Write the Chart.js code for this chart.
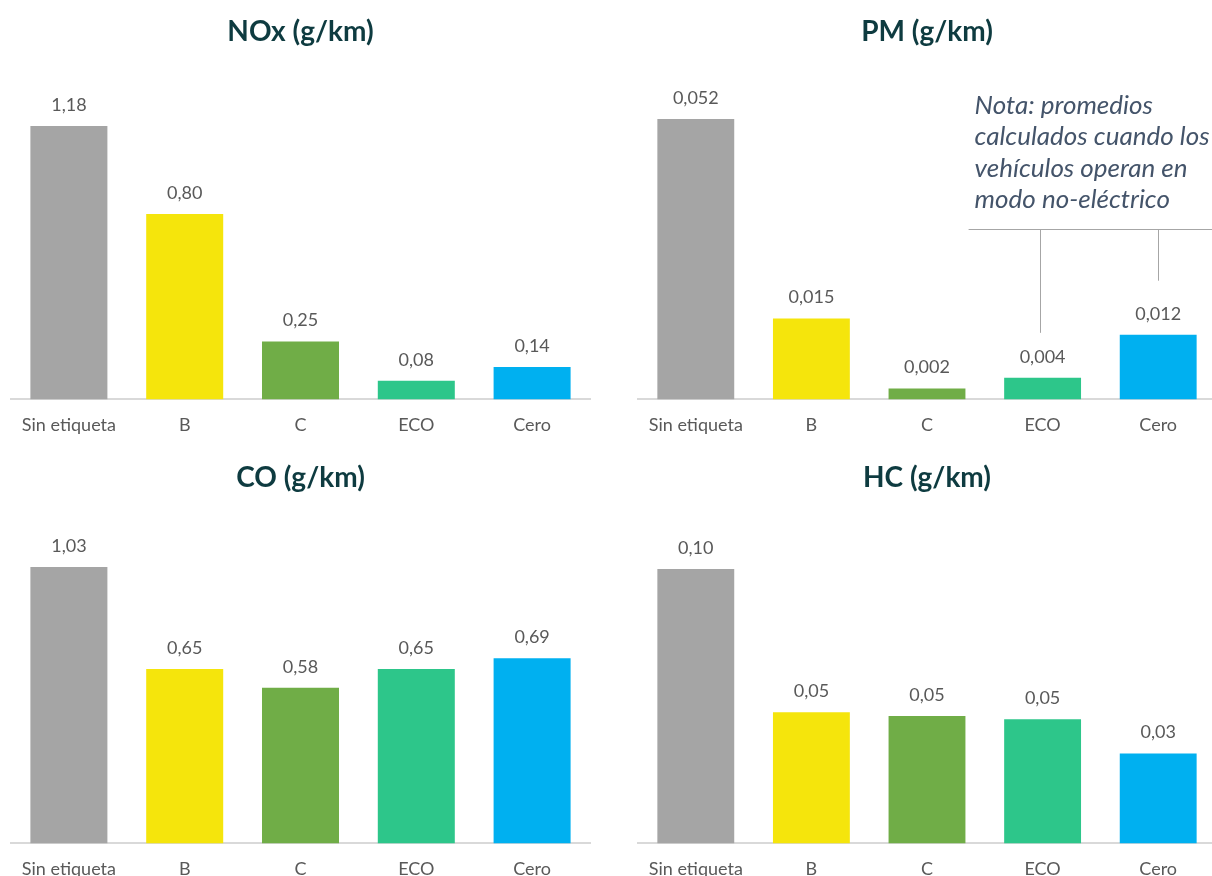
<!DOCTYPE html>
<html>
<head>
<meta charset="utf-8">
<script src="https://cdn.jsdelivr.net/npm/chart.js@4/dist/chart.umd.min.js"></script>
<style>
    html, body { margin: 0; padding: 0; background: #fff; overflow: hidden; }
    #page { position: relative; width: 1212px; height: 876px; overflow: hidden; }
    canvas { position: absolute; }
</style>
</head>
<body>
<div id="page">
    <canvas id="nox" width="600" height="451" style="left:0px;top:0px"></canvas>
    <canvas id="pm" width="600" height="451" style="left:626px;top:0px"></canvas>
    <canvas id="co" width="600" height="451" style="left:0px;top:444px"></canvas>
    <canvas id="hc" width="600" height="451" style="left:626px;top:444px"></canvas>
</div>
<script>
// Categories (environmental label) and values per pollutant
const categories = ["Sin etiqueta", "B", "C", "ECO", "Cero"];
const noxValues = [1.18, 0.80, 0.25, 0.08, 0.14];
const pmValues = [0.052, 0.015, 0.002, 0.004, 0.012];
const coValues = [1.03, 0.65, 0.58, 0.65, 0.69];
const hcValues = [0.100, 0.0478, 0.0464, 0.0453, 0.0328];

const noteLines = ["Nota: promedios", "calculados cuando los", "vehículos operan en", "modo no-eléctrico"];

// Bar colours, one per category
const barColors = ["#A5A5A5", "#F5E50C", "#70AD47", "#2DC68A", "#00B0F0"];

const FONT = "Lato";
const TEXT_GRAY = "#595959";

// Draws the value above each bar (comma as decimal separator)
const valueLabels = {
    id: "valueLabels",
    afterDatasetsDraw(chart, args, opts) {
        const ctx = chart.ctx;
        const meta = chart.getDatasetMeta(0);
        const data = chart.data.datasets[0].data;
        ctx.save();
        ctx.font = "18px " + FONT;
        ctx.fillStyle = TEXT_GRAY;
        ctx.textAlign = "center";
        ctx.textBaseline = "middle";
        meta.data.forEach((bar, i) => {
            const txt = data[i].toFixed(opts.decimals).replace(".", ",");
            ctx.fillText(txt, bar.x, bar.y - 21);
        });
        ctx.restore();
    }
};

// Note with leader lines pointing to ECO and Cero (PM chart only)
const pmNote = {
    id: "pmNote",
    afterDatasetsDraw(chart) {
        const ctx = chart.ctx;
        const meta = chart.getDatasetMeta(0);
        const eco = meta.data[3];
        const cero = meta.data[4];
        const textX = eco.x - 68;
        ctx.save();
        ctx.font = "italic 26px " + FONT;
        ctx.fillStyle = "#44546A";
        ctx.textAlign = "left";
        ctx.textBaseline = "alphabetic";
        noteLines.forEach((line, i) => {
            ctx.fillText(line, textX, 114 + i * 31.3);
        });
        const lineY = 229.5;
        ctx.strokeStyle = "#A6A6A6";
        ctx.lineWidth = 1;
        ctx.beginPath();
        ctx.moveTo(textX - 6, lineY);
        ctx.lineTo(chart.width, lineY);
        ctx.moveTo(Math.round(eco.x) - 2.5, lineY);
        ctx.lineTo(Math.round(eco.x) - 2.5, eco.y - 45);
        ctx.moveTo(Math.round(cero.x) + 0.5, lineY);
        ctx.lineTo(Math.round(cero.x) + 0.5, cero.y - 54);
        ctx.stroke();
        ctx.restore();
    }
};

function makeChart(id, title, values, decimals, yMax, titlePad, extraPlugins) {
    return new Chart(document.getElementById(id), {
        type: "bar",
        data: {
            labels: categories,
            datasets: [{
                data: values,
                backgroundColor: barColors,
                borderWidth: 0,
                categoryPercentage: 1.0,
                barPercentage: 0.665
            }]
        },
        plugins: [valueLabels].concat(extraPlugins || []),
        options: {
            responsive: false,
            animation: false,
            layout: { padding: { left: id === "nox" || id === "co" ? 11 : 12, right: 10, top: 0, bottom: 0 } },
            plugins: {
                legend: { display: false },
                tooltip: { enabled: false },
                title: {
                    display: true,
                    text: title,
                    color: "#0E3B40",
                    font: { family: FONT, size: 28, weight: "bold", lineHeight: 1.2 },
                    padding: titlePad
                },
                valueLabels: { decimals: decimals }
            },
            scales: {
                x: {
                    grid: { display: false, drawTicks: false },
                    border: { display: true, color: "#D9D9D9", width: 2 },
                    ticks: {
                        color: TEXT_GRAY,
                        padding: 15,
                        font: { family: FONT, size: 18 }
                    }
                },
                y: {
                    display: false,
                    min: 0,
                    max: yMax
                }
            }
        }
    });
}

makeChart("nox", "NOx (g/km)", noxValues, 2, 1.4627, { top: 15, bottom: 12 });
makeChart("pm", "PM (g/km)", pmValues, 3, 0.06285, { top: 15, bottom: 12 }, [pmNote]);
makeChart("co", "CO (g/km)", coValues, 2, 1.2629, { top: 17, bottom: 10 });
makeChart("hc", "HC (g/km)", hcValues, 2, 0.1235, { top: 17, bottom: 10 });
</script>
</body>
</html>
